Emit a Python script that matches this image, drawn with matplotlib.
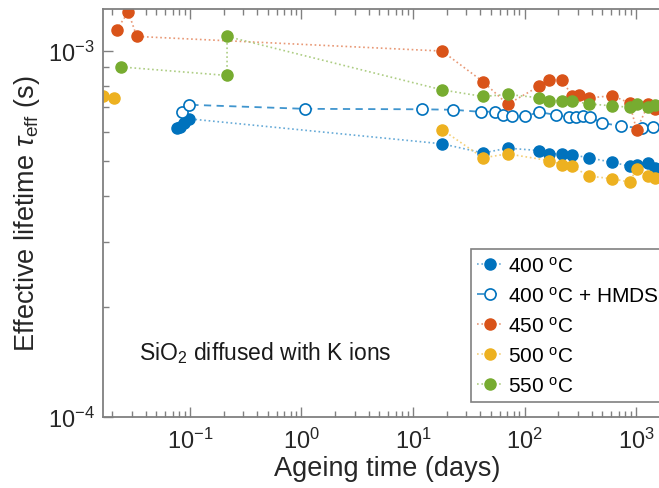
import numpy as np
import matplotlib.pyplot as plt
from matplotlib.colors import to_rgb

plt.rcParams['font.family'] = ['Liberation Sans', 'DejaVu Sans']
plt.rcParams['mathtext.fontset'] = 'custom'
plt.rcParams['mathtext.rm'] = 'Liberation Sans'
plt.rcParams['mathtext.it'] = 'Liberation Sans:italic'
plt.rcParams['mathtext.default'] = 'regular'

# 400 C (filled blue)
t_400 = [0.076, 0.081, 0.088, 0.097, 18.2, 42.5, 70.5, 135, 167, 217, 267, 378, 612, 874, 1010, 1289, 1480]
tau_400 = [6.15e-4, 6.21e-4, 6.36e-4, 6.52e-4, 5.57e-4, 5.26e-4, 5.42e-4, 5.34e-4, 5.23e-4, 5.23e-4,
           5.20e-4, 5.10e-4, 4.96e-4, 4.84e-4, 4.88e-4, 4.93e-4, 4.78e-4]

# 400 C + HMDS (open blue)
t_hmds = [0.0843, 0.098, 1.075, 12.0, 23.0, 40.3, 54.3, 64.6, 77.3, 101, 135, 190.5, 251, 290, 337,
          386, 492, 733, 1139, 1412]
tau_hmds = [6.80e-4, 7.12e-4, 6.94e-4, 6.92e-4, 6.90e-4, 6.81e-4, 6.82e-4, 6.68e-4, 6.63e-4, 6.62e-4,
            6.80e-4, 6.68e-4, 6.59e-4, 6.59e-4, 6.65e-4, 6.59e-4, 6.36e-4, 6.22e-4, 6.15e-4, 6.21e-4]

# 450 C
t_450 = [0.0220, 0.0280, 0.0333, 18.2, 42.5, 70.5, 135, 167, 217, 267, 305, 378, 612, 874, 1010, 1289, 1480]
tau_450 = [1.141e-3, 1.276e-3, 1.094e-3, 0.998e-3, 8.23e-4, 7.14e-4, 8.00e-4, 8.33e-4, 8.32e-4, 7.52e-4,
           7.55e-4, 7.43e-4, 7.54e-4, 7.20e-4, 6.08e-4, 7.14e-4, 6.94e-4]

# 500 C (gap between first two points and the rest)
t_500 = [0.0167, 0.0208, np.nan, 18.2, 42.5, 70.5, 167, 217, 267, 378, 612, 874, 1010, 1289, 1480]
tau_500 = [7.52e-4, 7.43e-4, np.nan, 6.09e-4, 5.10e-4, 5.23e-4, 5.01e-4, 4.89e-4, 4.83e-4, 4.55e-4,
           4.47e-4, 4.38e-4, 4.75e-4, 4.54e-4, 4.49e-4]

# 550 C
t_550 = [0.0242, 0.215, 0.215, 18.2, 42.5, 70.5, 135, 167, 217, 267, 378, 612, 874, 1010, 1289, 1480]
tau_550 = [9.03e-4, 8.56e-4, 1.094e-3, 7.82e-4, 7.50e-4, 7.60e-4, 7.44e-4, 7.31e-4, 7.31e-4, 7.29e-4,
           7.16e-4, 7.07e-4, 7.01e-4, 7.16e-4, 7.01e-4, 7.09e-4]

labels = ['400 $^{o}$C', '400 $^{o}$C + HMDS', '450 $^{o}$C', '500 $^{o}$C', '550 $^{o}$C']

BLUE = '#0072BD'
ORANGE = '#D95319'
YELLOW = '#EDB120'
GREEN = '#77AC30'


def light(c, f=0.4):
    r, g, b = to_rgb(c)
    return (r + (1 - r) * f, g + (1 - g) * f, b + (1 - b) * f)


fig = plt.figure(figsize=(6.59, 4.89), dpi=100)
W, H = 659, 489
ax = fig.add_axes([103 / W, (H - 418) / H, (672 - 103) / W, (418 - 10) / H])

ms = 8
ax.plot(t_400, tau_400, ':', color=light(BLUE), lw=1.2, marker='o', ms=ms,
        mfc=BLUE, mec=BLUE, label=labels[0])
ax.plot(t_hmds, tau_hmds, '--', color=light(BLUE, 0.25), lw=1.3, dashes=(4, 3), marker='o', ms=ms,
        mfc='white', mec=BLUE, mew=1.2, label=labels[1])
ax.plot(t_450, tau_450, ':', color=light(ORANGE), lw=1.2, marker='o', ms=ms,
        mfc=ORANGE, mec=ORANGE, label=labels[2])
ax.plot(t_500, tau_500, ':', color=light(YELLOW), lw=1.2, marker='o', ms=ms,
        mfc=YELLOW, mec=YELLOW, label=labels[3])
ax.plot(t_550, tau_550, ':', color=light(GREEN), lw=1.2, marker='o', ms=ms,
        mfc=GREEN, mec=GREEN, label=labels[4])

ax.set_xscale('log')
ax.set_yscale('log')
ax.set_xlim(0.0166, 2100)
ax.set_ylim(1e-4, 1.30e-3)

spine_c = '#808080'
for s in ax.spines.values():
    s.set_color(spine_c)
    s.set_linewidth(1.3)
ax.tick_params(which='both', direction='in', top=True, right=True, colors=spine_c,
               labelcolor='#262626', labelsize=17)
ax.tick_params(which='major', length=7, width=1)
ax.tick_params(which='minor', length=4, width=1)
ax.tick_params(axis='x', pad=8)
ax.tick_params(axis='y', pad=6)

ax.set_xlabel('Ageing time (days)', fontsize=19.5, color='#262626', labelpad=1)
ax.set_ylabel(r'Effective lifetime $\mathit{\tau}_{eff}$ (s)', fontsize=19.5, color='#262626', labelpad=4)

ax.text(0.285, 0.16, 'SiO$_2$ diffused with K ions', transform=ax.transAxes,
        ha='center', va='center', fontsize=16.5, color='#1a1a1a')

leg = ax.legend(loc='upper left', bbox_to_anchor=(471 / W, 1 - 250 / H),
                bbox_transform=fig.transFigure, fontsize=15, frameon=True, fancybox=False,
                framealpha=1, edgecolor=spine_c, borderaxespad=0, handlelength=1.2,
                handletextpad=0.3, labelspacing=0.48, borderpad=0.3)
leg.get_frame().set_linewidth(1.2)

fig.savefig('out.png', dpi=100)
